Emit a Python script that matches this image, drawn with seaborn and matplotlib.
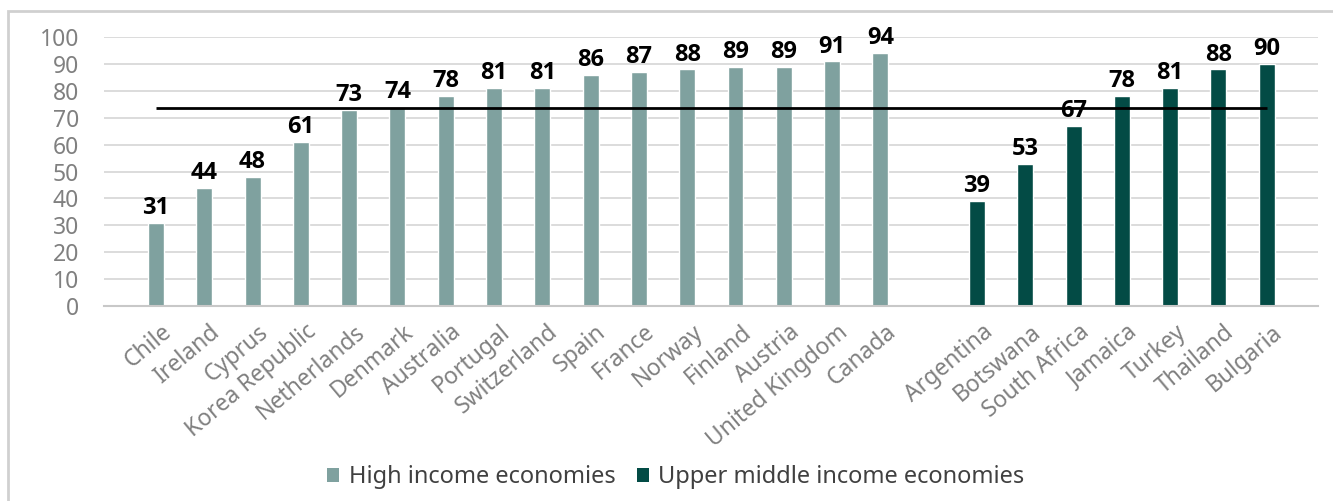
import numpy as np
import pandas as pd
import seaborn as sns
import matplotlib.pyplot as plt
import matplotlib.transforms as mtransforms
from matplotlib.patches import Patch, Rectangle

# Country scores by income group
high_income = ["Chile", "Ireland", "Cyprus", "Korea Republic", "Netherlands", "Denmark",
               "Australia", "Portugal", "Switzerland", "Spain", "France", "Norway",
               "Finland", "Austria", "United Kingdom", "Canada"]
high_values = [31, 44, 48, 61, 73, 74, 78, 81, 81, 86, 87, 88, 89, 89, 91, 94]

upper_middle = ["Argentina", "Botswana", "South Africa", "Jamaica", "Turkey",
                "Thailand", "Bulgaria"]
upper_values = [39, 53, 67, 78, 81, 88, 90]

groups = ["High income economies", "Upper middle income economies"]
colors = ["#7FA19F", "#034B45"]

df = pd.DataFrame({
    "country": high_income + upper_middle,
    "value": high_values + upper_values,
    "group": [groups[0]] * len(high_income) + [groups[1]] * len(upper_middle),
})
# one empty slot separates the two groups
order = high_income + [" "] + upper_middle
overall_mean = df["value"].mean()

sns.set_theme(style="white")
plt.rcParams["font.family"] = ["Noto Sans", "DejaVu Sans"]

fig = plt.figure(figsize=(13.33, 5.01), dpi=100)
ax = fig.add_axes([0.078, 0.389, 0.9107, 0.537])

sns.barplot(data=df, x="country", y="value", hue="group", order=order,
            hue_order=groups, palette=colors, dodge=False, width=0.33,
            saturation=1, legend=False, ax=ax)

# average across all countries
ax.plot([0, len(order) - 1], [overall_mean, overall_mean], color="black",
        lw=2.0, zorder=3, solid_capstyle="butt")

for cont in ax.containers:
    ax.bar_label(cont, fmt="%d", padding=2, fontsize=17, fontweight="bold",
                 color="black", family=["Open Sans", "DejaVu Sans"])

ax.set_ylim(0, 100)
ax.set_xlim(-1.077, 24.06)
ax.set_yticks(range(0, 101, 10))
ax.yaxis.grid(True, color="#D9D9D9", lw=1.3)
ax.set_axisbelow(True)
for s in ["top", "right", "left"]:
    ax.spines[s].set_visible(False)
ax.spines["bottom"].set_color("#C8C8C8")
ax.spines["bottom"].set_linewidth(1.5)

ax.set_xlabel("")
ax.set_ylabel("")
ax.tick_params(axis="y", length=0, pad=18, labelsize=16.5, labelcolor="#808080")
ax.tick_params(axis="x", length=0, pad=10, labelsize=16.5, labelcolor="#808080")
ax.set_xticks(range(len(order)))
ax.set_xticklabels(order, rotation=40, ha="right", rotation_mode="anchor")
shift = mtransforms.ScaledTranslation(5 / 100, 0, fig.dpi_scale_trans)
for lbl in ax.get_xticklabels():
    lbl.set_transform(lbl.get_transform() + shift)

handles = [Patch(facecolor=c, edgecolor="none") for c in colors]
fig.legend(handles, groups, loc="center", bbox_to_anchor=(0.507, 0.047), ncol=2,
           frameon=False, fontsize=17, handlelength=0.5, handleheight=0.5,
           handletextpad=0.4, columnspacing=0.9, labelcolor="#404040")

# chart border
fig.add_artist(Rectangle((0.006, -0.02), 1.1, 0.999, transform=fig.transFigure,
                         fill=False, edgecolor="#D0D0D0", lw=2))

fig.savefig("out.png", dpi=100)
